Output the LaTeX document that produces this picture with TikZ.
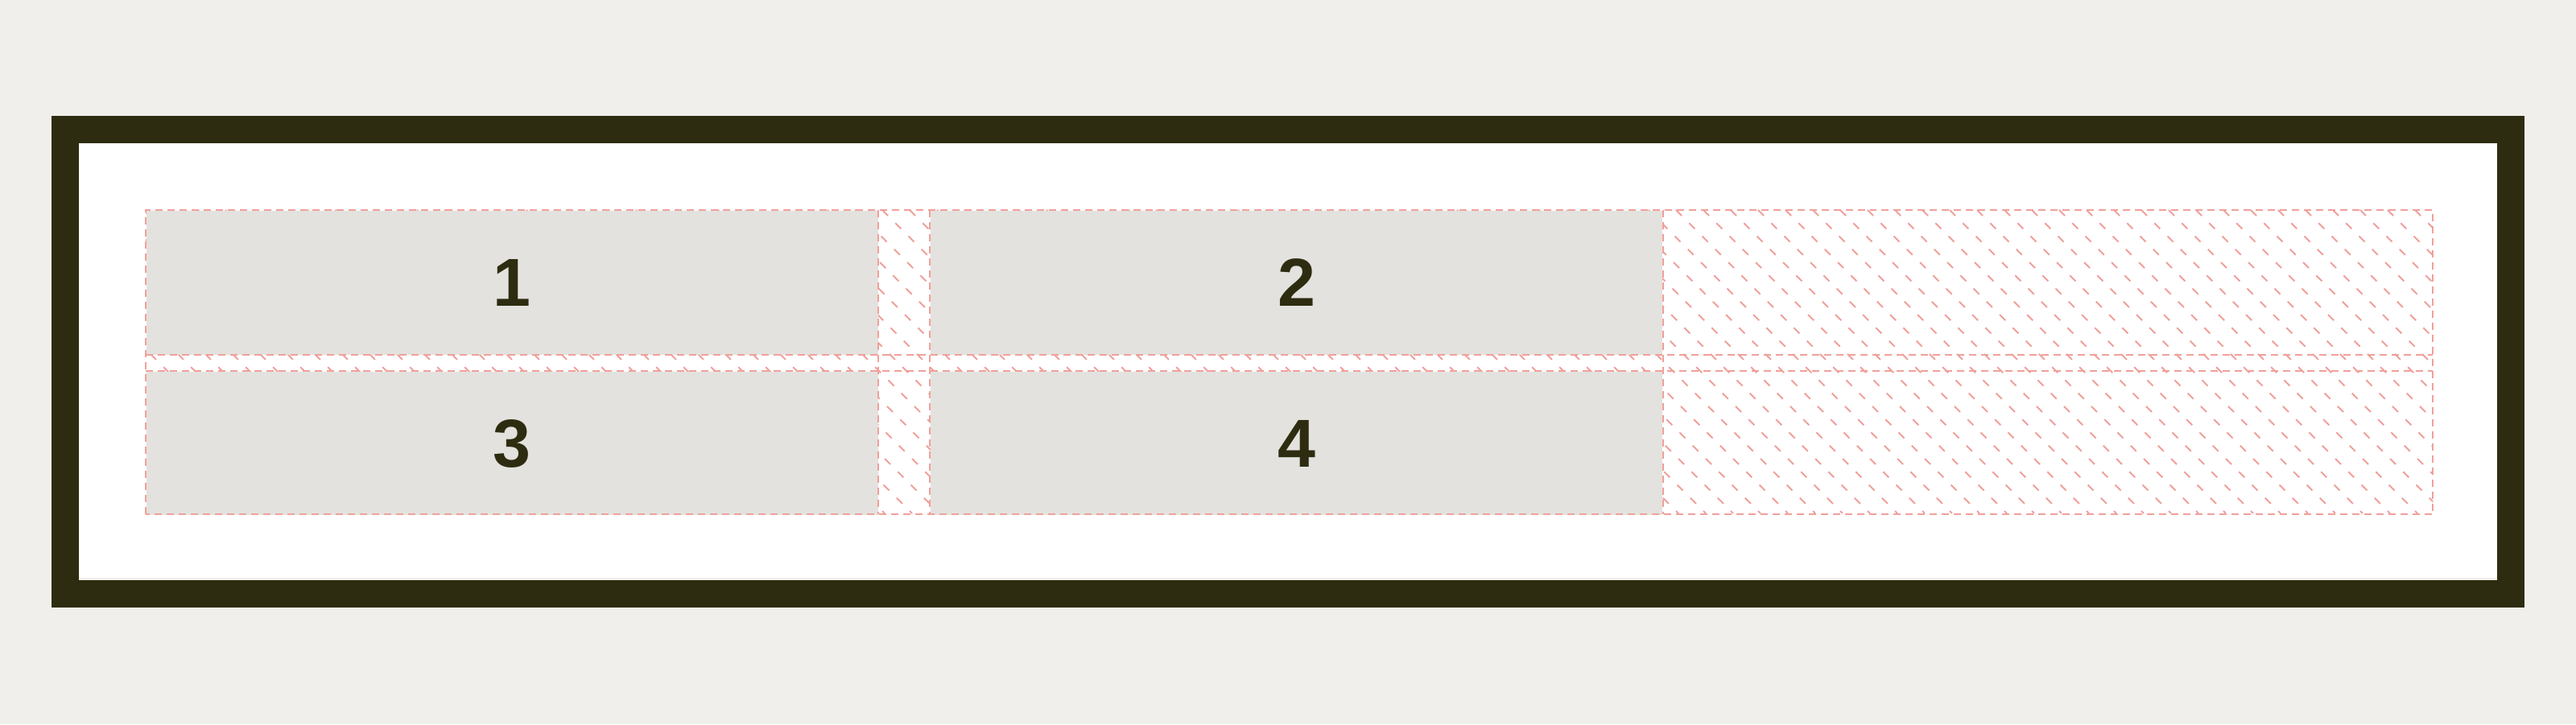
\documentclass[tikz,border=0pt]{standalone}
\usepackage{fontspec}
\setmainfont{Liberation Sans}
\usepackage{tikz}
\usetikzlibrary{positioning}

\definecolor{pagebg}{RGB}{240,239,235}
\definecolor{framedark}{RGB}{46,44,16}
\definecolor{cellgray}{RGB}{227,226,222}
\definecolor{guidered}{RGB}{240,160,155}

\begin{document}
\begin{tikzpicture}[
    font=\fontsize{24}{24}\selectfont\bfseries,
    % grid item boxes and guide lines
    cellbox/.style={rectangle, fill=cellgray, text=framedark, minimum width=9.09cm, minimum height=1.79cm, inner sep=0pt},
    gridarea/.style={rectangle, minimum width=28.4cm, minimum height=3.77cm, inner sep=0pt},
    gridline/.style={draw=guidered, line width=0.02cm, dash pattern=on 0.09cm off 0.06cm},
    hatch/.style={draw=guidered, line width=0.02cm, dash pattern=on 0.1cm off 0.13cm},
]

% -------------------------
% Page and outer frame
% -------------------------
\fill[pagebg] (0,0) rectangle (32,9);
\useasboundingbox (0,0) rectangle (32,9);
\fill[white] (0.98,1.82) rectangle (31.02,7.22);
\draw[framedark, line width=0.34cm] (0.81,1.62) rectangle (31.19,7.39);

% -------------------------
% Grid container with hatched free space
% -------------------------
\node[gridarea, anchor=north west] (grid) at (1.81,6.39) {};

\begin{scope}
  \clip (grid.south west) rectangle (grid.north east);
  \foreach \k in {0,...,96}{
    \draw[hatch] (-1.96+\k*0.34, 6.39) -- ++(3.77,-3.77);
  }
\end{scope}

% -------------------------
% Grid items
% -------------------------
\node[cellbox, anchor=north west] (cell1) at (grid.north west) {1};
\node[cellbox, right=0.64cm of cell1] (cell2) {2};
\node[cellbox, below=0.2cm of cell1, minimum height=1.78cm] (cell3) {3};
\node[cellbox, right=0.64cm of cell3, minimum height=1.78cm] (cell4) {4};

% -------------------------
% Track lines (dashed)
% -------------------------
\draw[gridline] (grid.south west) rectangle (grid.north east);
\draw[gridline] (cell1.south -| grid.west) -- (cell1.south -| grid.east);
\draw[gridline] (cell3.north -| grid.west) -- (cell3.north -| grid.east);

\foreach \c in {cell1.east, cell2.west, cell2.east}{
  \draw[gridline] (\c |- grid.north) -- (\c |- grid.south);
}

\end{tikzpicture}
\end{document}
